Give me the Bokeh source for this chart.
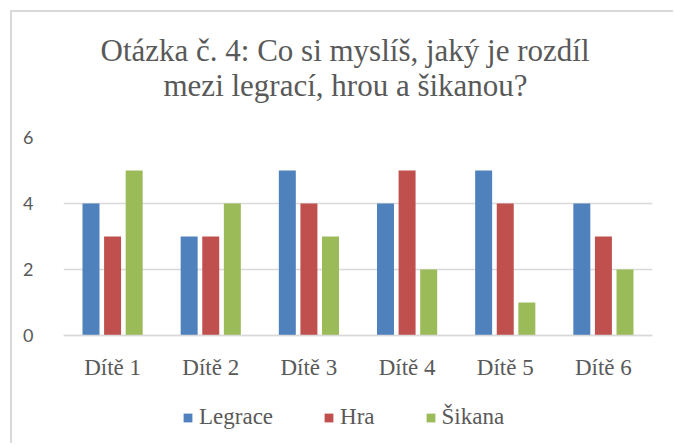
from bokeh.plotting import figure
from bokeh.models import FactorRange, Range1d, ColumnDataSource, Title
from bokeh.transform import dodge
from bokeh.embed import file_html
from bokeh.resources import INLINE

categories = ["Dítě 1", "Dítě 2", "Dítě 3", "Dítě 4", "Dítě 5", "Dítě 6"]
legrace = [4, 3, 5, 4, 5, 4]
hra = [3, 3, 4, 5, 4, 3]
sikana = [5, 4, 3, 2, 1, 2]
series_names = ["Legrace", "Hra", "Šikana"]
y_ticks = [0, 2, 4, 6]
title_lines = ["Otázka č. 4: Co si myslíš, jaký je rozdíl", "mezi legrací, hrou a šikanou?"]

colors = ["#4f81bd", "#c0504d", "#9bbb59"]
text_color = "#595959"
serif = "Liberation Serif"

# frame: 303 px tall, 33 px per unit, value 0 sits 105 px above the frame bottom
frame_h = 303
px_per_unit = 33.0
y_top = 6
y_bottom = y_top - frame_h / px_per_unit

src = ColumnDataSource(dict(cat=categories, legrace=legrace, hra=hra, sikana=sikana))

p = figure(width=663, height=433,
           x_range=FactorRange(*categories, range_padding=0),
           y_range=Range1d(y_bottom, y_top),
           output_backend="svg", toolbar_location=None,
           min_border_left=51, min_border_right=23,
           min_border_top=125, min_border_bottom=5)
p.styles = {"margin-left": "10px", "margin-top": "10px",
            "border-top": "2px solid #d9d9d9", "border-left": "2px solid #d9d9d9"}

# title: two centred lines, added from the plot outward
p.title.visible = False
p.add_layout(Title(text=" ", text_font_size="1px", standoff=32, text_color="white"), "above")
p.add_layout(Title(text=title_lines[1], align="left", offset=100, standoff=0,
                   text_font=serif, text_font_size="31px", text_color=text_color,
                   text_font_style="normal"), "above")
p.add_layout(Title(text=title_lines[0], align="left", offset=37, standoff=-4,
                   text_font=serif, text_font_size="31px", text_color=text_color,
                   text_font_style="normal"), "above")

for key, name, col, off in zip(["legrace", "hra", "sikana"], series_names, colors, [-0.22, 0, 0.22]):
    p.vbar(x=dodge("cat", off, range=p.x_range), top=key, width=0.173, source=src,
           fill_color=col, line_color=None, legend_label=name)

p.outline_line_color = None
p.xgrid.grid_line_color = None
p.ygrid.grid_line_color = "#d9d9d9"
p.ygrid.grid_line_width = 1.5
p.yaxis.ticker = y_ticks
p.yaxis.axis_line_color = None
p.yaxis.major_tick_line_color = None
p.yaxis.minor_tick_line_color = None
p.yaxis.major_label_standoff = 24
p.yaxis.major_label_text_font = "Lato"
p.yaxis.major_label_text_font_size = "18px"
p.yaxis.major_label_text_color = text_color

p.xaxis.fixed_location = 0
p.xaxis.axis_line_color = "#d9d9d9"
p.xaxis.axis_line_width = 1.5
p.xaxis.major_tick_line_color = None
p.xaxis.minor_tick_line_color = None
p.xaxis.major_label_standoff = 13
p.xaxis.major_label_text_font = serif
p.xaxis.major_label_text_font_size = "23px"
p.xaxis.major_label_text_color = text_color

lg = p.legend[0]
lg.orientation = "horizontal"
lg.location = (119, 10)
lg.glyph_width = 11
lg.glyph_height = 11
lg.label_standoff = 6
lg.spacing = 50
lg.padding = 0
lg.margin = 0
lg.border_line_color = None
lg.background_fill_alpha = 0
lg.label_text_font = serif
lg.label_text_font_size = "23px"
lg.label_text_color = text_color

open("out.html", "w").write(file_html(p, INLINE))
